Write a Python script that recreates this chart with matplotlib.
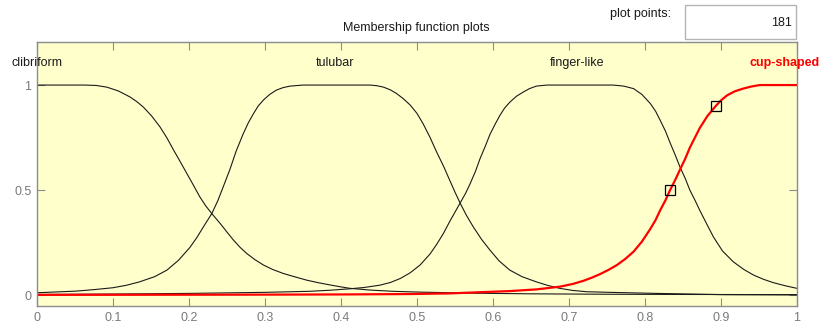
import matplotlib
matplotlib.use('Agg')
import matplotlib.pyplot as plt
from matplotlib.patches import Rectangle

BG = '#ffffcc'; GRID = '#8c8c8c'; INK = '#1a1a1a'; RED = '#ff0000'
plt.rcParams.update({'font.family': ['Liberation Sans', 'DejaVu Sans'], 'font.size': 9})

# membership functions sampled along the input range
clib_x = [0, 0.063, 0.078, 0.092, 0.107, 0.122, 0.131, 0.140, 0.151, 0.162, 0.171, 0.179, 0.188,
          0.197, 0.206, 0.214, 0.222, 0.230, 0.241, 0.250, 0.258, 0.267, 0.276, 0.287, 0.298,
          0.310, 0.324, 0.340, 0.355, 0.370, 0.386, 0.400, 0.412, 0.438, 0.468, 0.505, 0.574,
          0.65, 0.75, 0.85, 1.0]
clib_y = [1.0, 1.0, 0.998, 0.99, 0.972, 0.944, 0.922, 0.895, 0.852, 0.80, 0.748, 0.695, 0.638,
          0.58, 0.522, 0.469, 0.425, 0.388, 0.341, 0.30, 0.264, 0.228, 0.198, 0.168, 0.143,
          0.122, 0.103, 0.086, 0.071, 0.059, 0.048, 0.039, 0.032, 0.024, 0.018, 0.014, 0.009,
          0.006, 0.004, 0.003, 0.002]

tul_x = [0, 0.026, 0.052, 0.075, 0.10, 0.118, 0.135, 0.155, 0.171, 0.186, 0.201, 0.210, 0.219,
         0.230, 0.238, 0.245, 0.254, 0.262, 0.271, 0.278, 0.285, 0.291, 0.298, 0.306, 0.315,
         0.324, 0.333, 0.350, 0.438, 0.447, 0.456, 0.465, 0.473, 0.482, 0.491, 0.500, 0.508,
         0.517, 0.526, 0.535, 0.543, 0.550, 0.557, 0.565, 0.574, 0.585, 0.596, 0.608, 0.622,
         0.638, 0.657, 0.672, 0.688, 0.705, 0.723, 0.754, 0.815, 0.903, 1.0]
tul_y = [0.011, 0.015, 0.019, 0.026, 0.035, 0.047, 0.063, 0.088, 0.119, 0.165, 0.226, 0.272, 0.325,
         0.388, 0.45, 0.515, 0.60, 0.685, 0.765, 0.82, 0.865, 0.90, 0.929, 0.955, 0.976,
         0.988, 0.995, 1.0, 1.0, 0.997, 0.99, 0.977, 0.96, 0.935, 0.905, 0.865, 0.816,
         0.752, 0.680, 0.613, 0.547, 0.49, 0.436, 0.38, 0.325, 0.265, 0.214, 0.163, 0.119,
         0.088, 0.063, 0.046, 0.032, 0.022, 0.016, 0.013, 0.008, 0.002, 0.001]

fing_x = [0, 0.1, 0.2, 0.3, 0.359, 0.385, 0.412, 0.430, 0.451, 0.465, 0.478, 0.491, 0.504, 0.517,
          0.526, 0.535, 0.543, 0.550, 0.557, 0.564, 0.570, 0.577, 0.583, 0.590, 0.596, 0.603,
          0.609, 0.615, 0.622, 0.631, 0.640, 0.648, 0.657, 0.671, 0.758, 0.772, 0.785, 0.796,
          0.807, 0.814, 0.820, 0.827, 0.833, 0.840, 0.846, 0.853, 0.859, 0.866, 0.872, 0.881,
          0.890, 0.902, 0.916, 0.930, 0.943, 0.956, 0.969, 0.985, 1.0]
fing_y = [0.003, 0.005, 0.008, 0.013, 0.018, 0.023, 0.030, 0.036, 0.047, 0.060, 0.079, 0.106, 0.143, 0.195,
          0.242, 0.295, 0.350, 0.395, 0.440, 0.485, 0.531, 0.590, 0.650, 0.71, 0.765, 0.815,
          0.855, 0.889, 0.918, 0.947, 0.967, 0.983, 0.995, 1.0, 1.0, 0.995, 0.983, 0.955,
          0.912, 0.875, 0.832, 0.78, 0.725, 0.665, 0.61, 0.555, 0.50, 0.45, 0.404, 0.34,
          0.277, 0.21, 0.159, 0.122, 0.095, 0.075, 0.059, 0.044, 0.032]

cup_x = [0, 0.282, 0.40, 0.491, 0.543, 0.578, 0.622, 0.657, 0.688, 0.705, 0.719, 0.730, 0.741,
         0.752, 0.763, 0.774, 0.785, 0.796, 0.807, 0.814, 0.820, 0.827, 0.833, 0.840, 0.846,
         0.853, 0.859, 0.866, 0.872, 0.882, 0.893, 0.900, 0.908, 0.918, 0.929, 0.940, 0.951, 1.0]
cup_y = [0.001, 0.002, 0.003, 0.005, 0.008, 0.013, 0.019, 0.027, 0.04, 0.053, 0.068, 0.083, 0.10,
         0.12, 0.143, 0.172, 0.207, 0.255, 0.315, 0.358, 0.404, 0.452, 0.50, 0.55, 0.597,
         0.65, 0.702, 0.752, 0.795, 0.852, 0.90, 0.927, 0.951, 0.97, 0.983, 0.993, 1.0, 1.0]
cup_px = [0.833, 0.893]   # parameter handles on the selected curve
cup_py = [0.5, 0.9]

names = ['clibriform', 'tulubar', 'finger-like', 'cup-shaped']
name_x = [0.0, 0.392, 0.711, 0.983]
xticks = [0, 0.1, 0.2, 0.3, 0.4, 0.5, 0.6, 0.7, 0.8, 0.9, 1]
xlabels = ['0', '0.1', '0.2', '0.3', '0.4', '0.5', '0.6', '0.7', '0.8', '0.9', '1']
yticks = [0, 0.5, 1]
ylabels = ['0', '0.5', '1']
n_points = 181

fig = plt.figure(figsize=(8.35, 3.27), dpi=100)
ax = fig.add_axes([37/835, 21/327, 760/835, 264/327])
ax.set_facecolor(BG)

ax.plot(clib_x, clib_y, color=INK, lw=0.8)
ax.plot(tul_x, tul_y, color=INK, lw=0.8)
ax.plot(fing_x, fing_y, color=INK, lw=0.8)
ax.plot(cup_x, cup_y, color=RED, lw=1.6)
ax.plot(cup_px, cup_py, ls='none', marker='s', ms=6.5, mfc='none', mec='black', mew=0.9)

for i, (nm, nx) in enumerate(zip(names, name_x)):
    sel = i == len(names) - 1
    ax.text(nx, 1.105, nm, ha='center', va='center', fontsize=9,
            color=RED if sel else INK, fontweight='bold' if sel else 'normal', clip_on=False)

ax.set_xlim(0, 1); ax.set_ylim(-0.052, 1.205)
ax.set_xticks(xticks); ax.set_xticklabels(xlabels)
ax.set_yticks(yticks); ax.set_yticklabels(ylabels)
ax.tick_params(direction='in', top=True, right=True, length=6, width=0.8,
               color=GRID, labelcolor='#7a7a7a', labelsize=9, pad=4)
for s in ax.spines.values():
    s.set_color(GRID); s.set_linewidth(1.0)

fig.text(416/835, 1 - 28/327, 'Membership function plots', ha='center', va='center', fontsize=9, color=INK)
fig.text(671/835, 1 - 14/327, 'plot points:', ha='right', va='center', fontsize=9, color=INK)
fig.patches.append(Rectangle((685/835, 1 - 39/327), 111/835, 34/327, transform=fig.transFigure,
                             facecolor='white', edgecolor='#b4b4b4', lw=1.0))
fig.text(792/835, 1 - 23/327, str(n_points), ha='right', va='center', fontsize=9, color=INK)

fig.savefig('out.png', dpi=100, facecolor='white')
